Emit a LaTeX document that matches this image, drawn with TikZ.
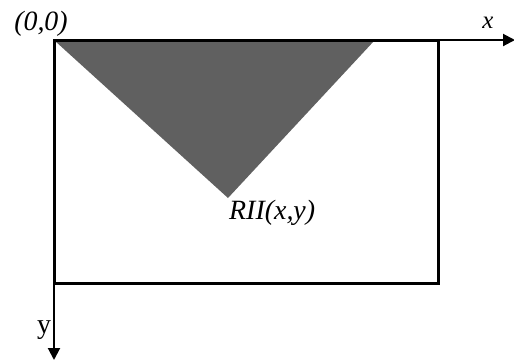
\documentclass[tikz,border=0pt]{standalone}
\usepackage{fontspec}
\setmainfont{Liberation Serif}
\usetikzlibrary{arrows.meta}
\begin{document}
\begin{tikzpicture}[x=1bp,y=-1bp,
  axis/.style={line width=2bp,-{Triangle[length=12bp,width=12bp]}},
  frame/.style={line width=3bp},
  lbl/.style={inner sep=0pt,font=\fontsize{28}{32}\selectfont}]
\useasboundingbox (0,0) rectangle (514,362);
\coordinate (O) at (54,40);
\coordinate (XE) at (515,40);
\coordinate (YE) at (54,360);
\coordinate (TL) at (55,41);
\coordinate (TR) at (374,41);
\coordinate (TB) at (228,198);
\fill[fill={rgb,255:red,96;green,96;blue,96}] (TL) -- (TR) -- (TB) -- cycle;
\draw[frame] (54,40) rectangle (438,283);
\draw[axis] (O) -- (XE);
\draw[axis] (O) -- (YE);
\node[lbl,anchor=base] (origin) at (41,30) {\itshape (0,0)};
\node[lbl,anchor=base,font=\fontsize{25}{30}\selectfont] (xl) at (488,28) {\itshape x};
\node[lbl,anchor=base,font=\fontsize{28}{32}\selectfont] (yl) at (44,333) {y};
\node[lbl,anchor=base west] (pt) at (229,219) {\itshape RII(x,y)};
\end{tikzpicture}
\end{document}
